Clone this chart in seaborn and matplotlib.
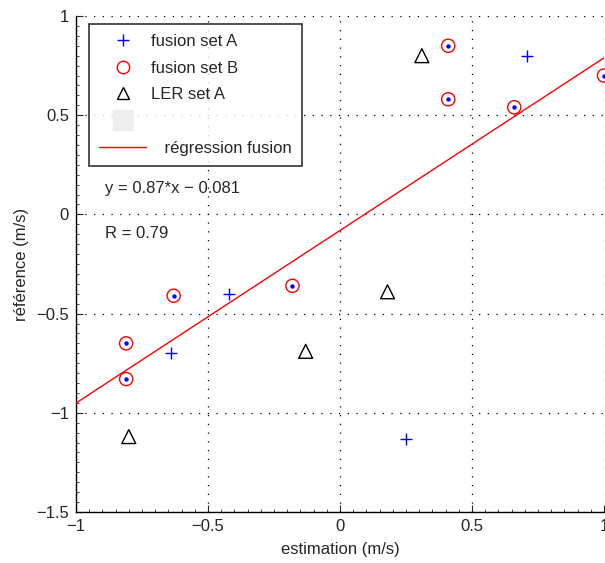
import matplotlib
matplotlib.use("Agg")
import matplotlib.pyplot as plt
import pandas as pd
import seaborn as sns
from matplotlib.lines import Line2D
from matplotlib.ticker import MultipleLocator

# -- Data ----------------------------------------------------------------------

fusion_a_x = [0.71, -0.42, -0.64, 0.25]
fusion_a_y = [0.80, -0.40, -0.70, -1.13]

fusion_b_x = [0.41, 0.41, 0.66, 1.00, -0.18, -0.63, -0.81, -0.81]
fusion_b_y = [0.85, 0.58, 0.54, 0.70, -0.36, -0.41, -0.65, -0.83]

ler_a_x = [0.31, 0.18, -0.13, -0.80]
ler_a_y = [0.80, -0.39, -0.69, -1.12]

slope, intercept = 0.87, -0.081
r_value = 0.79
reg_x = [-1.0, 1.0]

x_ticks = [-1, -0.5, 0, 0.5, 1]
y_ticks = [-1.5, -1, -0.5, 0, 0.5, 1]

FS = 12

# -- Figure --------------------------------------------------------------------

sns.set_style("white")
plt.rcParams["font.family"] = ["Liberation Sans", "DejaVu Sans"]

fig = plt.figure(figsize=(6.05, 5.63), dpi=100)
ax = fig.add_axes([76 / 605, 1 - 512 / 563, (604 - 76) / 605, (512 - 16) / 563])

df_a = pd.DataFrame({"x": fusion_a_x, "y": fusion_a_y})
df_b = pd.DataFrame({"x": fusion_b_x, "y": fusion_b_y})
df_l = pd.DataFrame({"x": ler_a_x, "y": ler_a_y})

sns.scatterplot(data=df_a, x="x", y="y", ax=ax, marker="+", color="blue",
                s=70, linewidth=1, zorder=4, clip_on=False)
sns.scatterplot(data=df_b, x="x", y="y", ax=ax, marker="o", facecolor="none",
                edgecolor="red", s=90, linewidth=1, zorder=4, clip_on=False)
sns.scatterplot(data=df_b, x="x", y="y", ax=ax, marker="o", color="blue",
                s=10, linewidth=0, zorder=5, clip_on=False)
sns.scatterplot(data=df_l, x="x", y="y", ax=ax, marker="^", facecolor="none",
                edgecolor="black", s=100, linewidth=1, zorder=4, clip_on=False)

reg_y = [slope * v + intercept for v in reg_x]
sns.lineplot(x=reg_x, y=reg_y, ax=ax, color="red", linewidth=1, zorder=3)

ax.set_xlim(-1, 1)
ax.set_ylim(-1.5, 1)
ax.set_xticks(x_ticks)
ax.set_xticklabels(["\u22121", "\u22120.5", "0", "0.5", "1"])
ax.set_yticks(y_ticks)
ax.set_yticklabels(["\u22121.5", "\u22121", "\u22120.5", "0", "0.5", "1"])
ax.xaxis.set_minor_locator(MultipleLocator(0.05))
ax.yaxis.set_minor_locator(MultipleLocator(0.05))
ax.tick_params(which="major", direction="in", length=5, width=0.8,
               labelsize=FS, pad=5, left=True, bottom=True)
ax.tick_params(which="minor", direction="in", length=2.5, width=0.6,
               left=True, bottom=True)
ax.grid(True, which="major", linestyle=(0, (1, 6)), color="black", linewidth=0.9)

for side in ["top", "right"]:
    ax.spines[side].set_visible(False)
for side in ["left", "bottom"]:
    ax.spines[side].set_color("black")
    ax.spines[side].set_linewidth(1)

ax.set_xlabel("estimation (m/s)", fontsize=FS, labelpad=6)
ax.set_ylabel("référence (m/s)", fontsize=FS, labelpad=5)

ax.text(-0.89, 0.13, f"y = {slope:.2f}*x \u2212 {abs(intercept):.3f}",
        fontsize=FS, va="center", ha="left")
ax.text(-0.89, -0.095, f"R = {r_value:.2f}", fontsize=FS, va="center", ha="left")

handles = [
    Line2D([], [], marker="+", color="blue", linestyle="none", markersize=9),
    Line2D([], [], marker="o", markerfacecolor="none", markeredgecolor="red",
           linestyle="none", markersize=9),
    Line2D([], [], marker="^", markerfacecolor="none", markeredgecolor="black",
           linestyle="none", markersize=9),
    Line2D([], [], marker="s", color="#eeeeee", linestyle="none", markersize=14),
    Line2D([], [], color="red", linewidth=1),
]
labels = ["fusion set A", "fusion set B", "LER set A", " ",
          "\u2009\u2009\u2009\u2009régression fusion"]
leg = ax.legend(handles, labels, loc="upper left", bbox_to_anchor=(0.025, 0.984),
                fontsize=FS, frameon=True, fancybox=False, borderpad=0.6,
                borderaxespad=0, labelspacing=0.7, handlelength=2.8,
                handletextpad=0.3)
leg.get_frame().set_edgecolor("black")
leg.get_frame().set_linewidth(1.2)

fig.savefig("out.png", dpi=100)
